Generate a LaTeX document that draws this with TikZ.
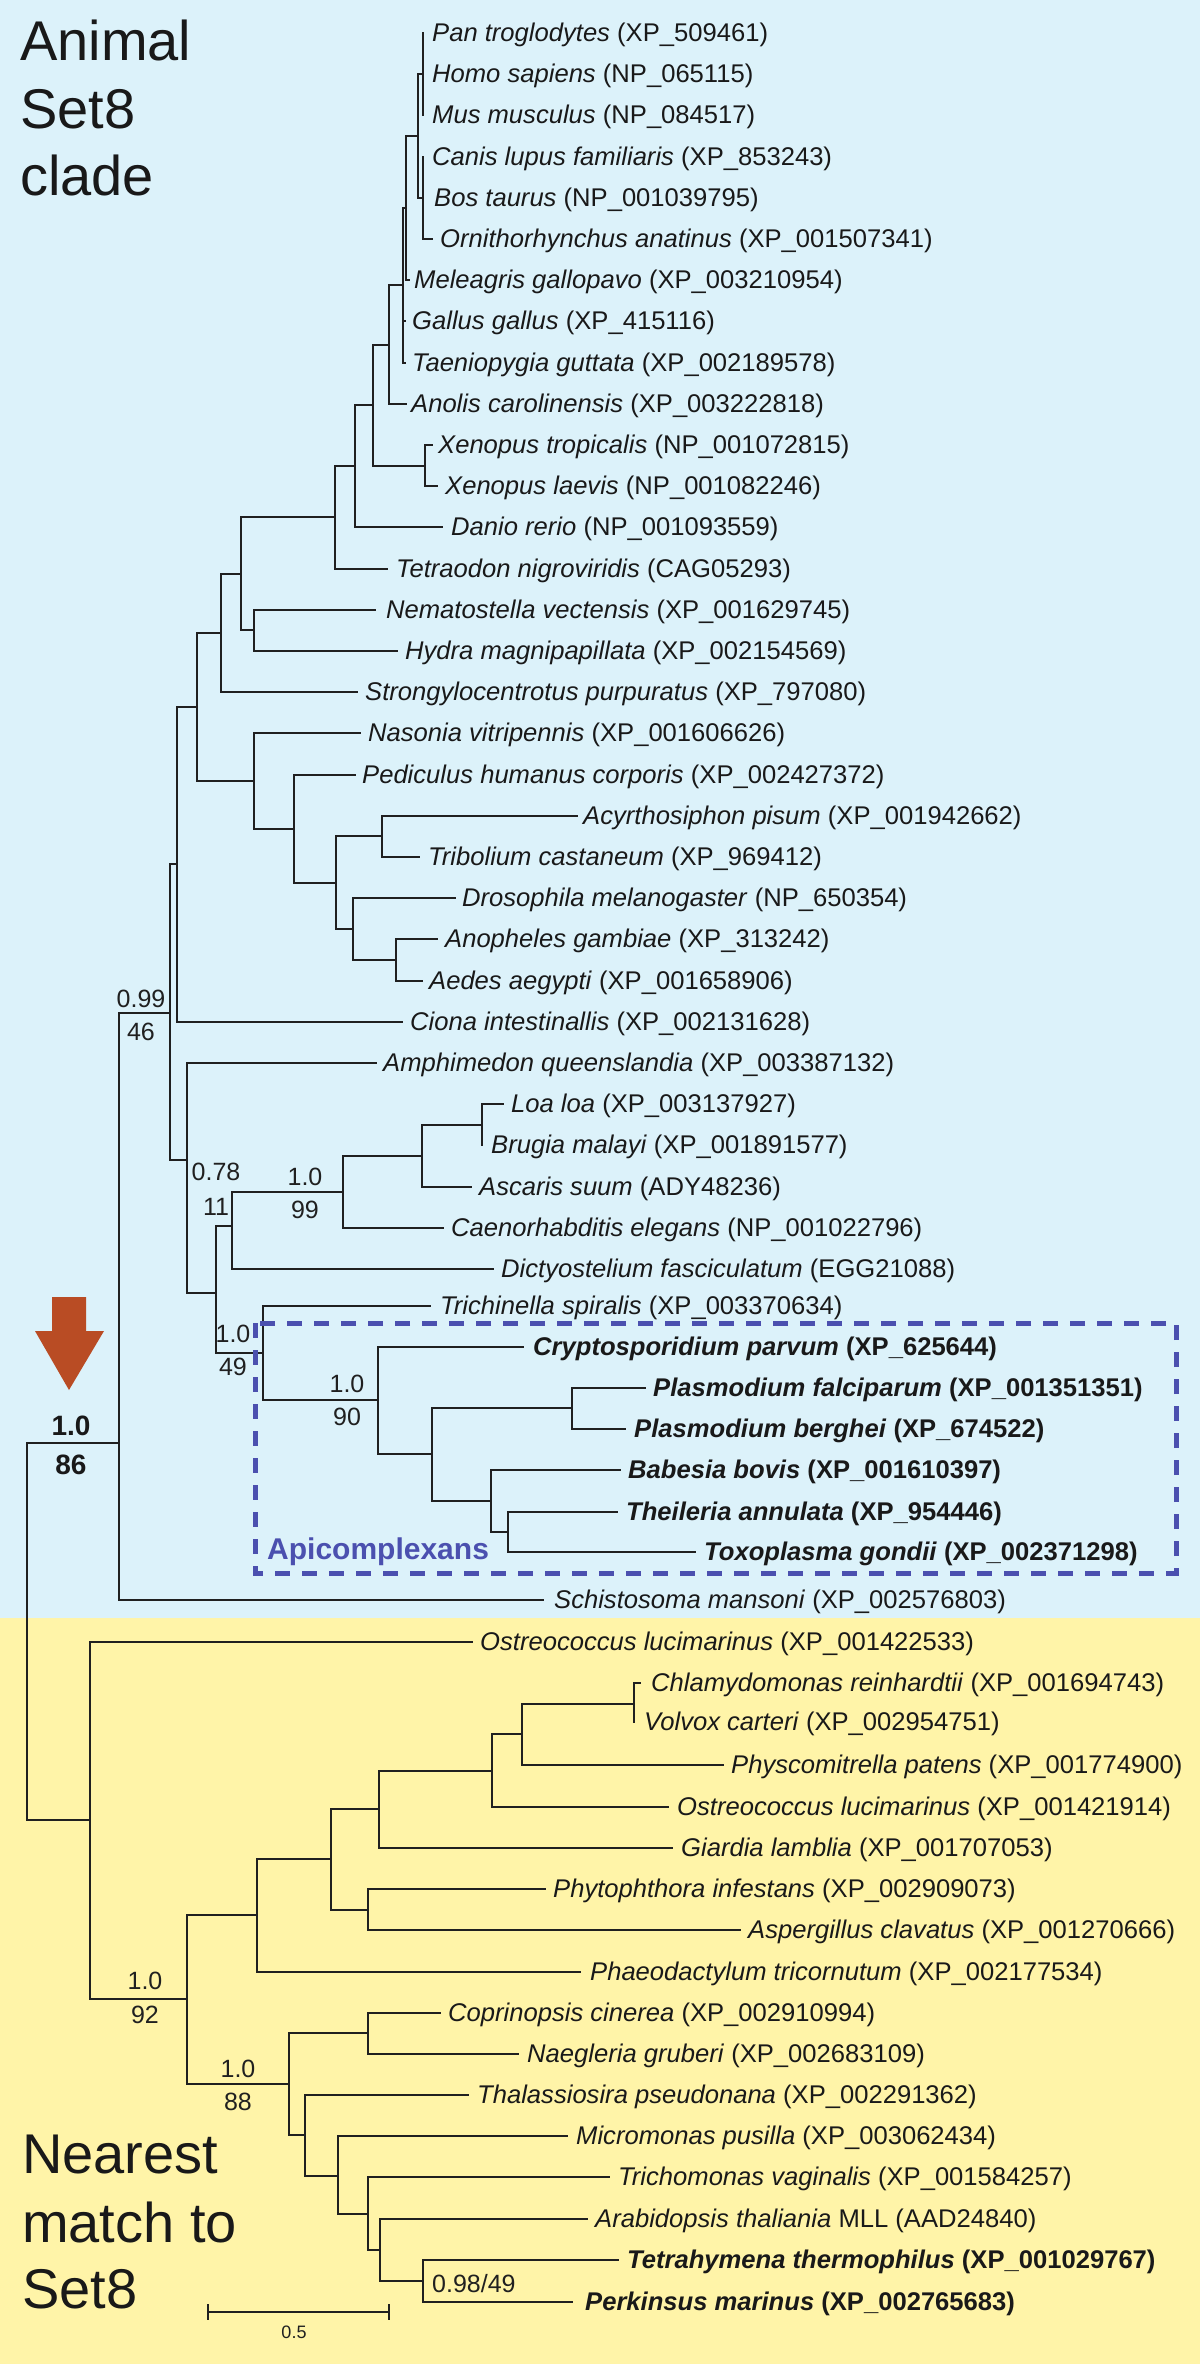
\documentclass[tikz,border=0pt]{standalone}
\usepackage{fontspec}
\setmainfont{Liberation Sans}
\definecolor{bgblue}{RGB}{220,242,250}
\definecolor{bgyel}{RGB}{255,244,168}
\definecolor{lncol}{RGB}{32,32,32}
\definecolor{arrcol}{RGB}{185,76,36}
\definecolor{apbcol}{RGB}{75,80,175}
\newcommand\lfont{\fontsize{25.6}{30}\selectfont}
\newcommand\br[5]{\draw[tl] (#3,#2) -- (#1,#2) -- (#1,#4) -- (#5,#4);}
\newcommand\lf[5]{\node[lab] (#1) at (#2,#3) {\textit{#4} #5};}
\newcommand\lfb[5]{\node[lab,font=\lfont\bfseries] (#1) at (#2,#3) {\textit{#4} #5};}
\begin{document}
\begin{tikzpicture}[x=1pt,y=-1pt,
  tl/.style={draw=lncol,line width=2.1pt,line cap=rect},
  lab/.style={anchor=base west,inner sep=0pt,yshift=-8pt,font=\lfont,text=lncol!80!black},
  num/.style={anchor=base,inner sep=0pt,font=\fontsize{25}{29}\selectfont,text=lncol},
  bignum/.style={anchor=base,inner sep=0pt,font=\fontsize{28}{32}\selectfont\bfseries,text=black!90},
  title/.style={anchor=base west,inner sep=0pt,font=\fontsize{56}{60}\selectfont,text=black!90}]
\useasboundingbox (0,0) rectangle (1200,2364);
\fill[bgblue] (0,0) rectangle (1200,1618);
\fill[bgyel] (0,1618) rectangle (1200,2364);

% titles
\node[title] (t1) at (20,60) {Animal};
\node[title] (t2) at (20,128) {Set8};
\node[title] (t3) at (20,195) {clade};
\node[title] (t4) at (22,2173) {Nearest};
\node[title] (t5) at (22,2242) {match to};
\node[title] (t6) at (22,2308) {Set8};

% ---------- animal tree ----------
\draw[tl] (423,33) -- (423,115);
\draw[tl] (423,157) -- (423,239) -- (432,239);
\br{418}{74}{423}{198}{423}
\br{406}{136}{418}{280}{409}
\br{403}{208}{406}{363}{405}
\draw[tl] (403,321) -- (405,321);
\br{389}{285}{403}{404}{406}
\br{425}{445}{432}{486}{437}
\br{373}{345}{389}{466}{425}
\br{355}{405}{373}{527}{442}
\br{335}{466}{355}{569}{387}
\br{254}{610}{375}{651}{397}
\br{241}{517}{335}{630}{254}
\br{221}{574}{241}{692}{357}
\br{382}{816}{577}{857}{419}
\br{396}{939}{437}{981}{422}
\br{353}{898}{455}{960}{396}
\br{336}{836}{382}{929}{353}
\br{294}{775}{355}{883}{336}
\br{254}{733}{360}{829}{294}
\br{197}{633}{221}{781}{254}
\br{177}{707}{197}{1022}{402}
\br{482}{1104}{503}{1145}{482}
\br{422}{1125}{482}{1187}{471}
\br{343}{1156}{422}{1228}{443}
\br{232}{1192}{343}{1269}{493}
\br{572}{1388}{645}{1429}{625}
\br{508}{1512}{617}{1552}{695}
\br{491}{1470}{620}{1532}{508}
\br{432}{1408}{572}{1501}{491}
\br{378}{1347}{523}{1454}{432}
\br{263}{1306}{430}{1400}{378}
\br{216}{1226}{232}{1353}{263}
\br{187}{1063}{376}{1293}{216}
\br{170}{864}{177}{1160}{187}
\br{119}{1013}{170}{1600}{543}
\br{27}{1443}{119}{1820}{90}

% ---------- lower tree ----------
\br{634}{1683}{640}{1722}{634}
\br{522}{1704}{634}{1765}{723}
\br{492}{1734}{522}{1807}{668}
\br{379}{1771}{492}{1848}{672}
\br{368}{1889}{545}{1930}{740}
\br{331}{1809}{379}{1910}{368}
\br{257}{1859}{331}{1972}{580}
\br{368}{2013}{440}{2054}{518}
\br{423}{2260}{618}{2302}{572}
\br{380}{2219}{587}{2281}{423}
\br{368}{2177}{609}{2250}{380}
\br{338}{2136}{567}{2214}{368}
\br{305}{2095}{468}{2176}{338}
\br{289}{2033}{368}{2135}{305}
\br{187}{1915}{257}{2084}{289}
\br{90}{1642}{472}{1999}{187}

% ---------- leaf labels (animal) ----------
\lf{l0}{432}{33}{Pan troglodytes}{(XP\_509461)}
\lf{l1}{432}{74}{Homo sapiens}{(NP\_065115)}
\lf{l2}{432}{115}{Mus musculus}{(NP\_084517)}
\lf{l3}{432}{157}{Canis lupus familiaris}{(XP\_853243)}
\lf{l4}{434}{198}{Bos taurus}{(NP\_001039795)}
\lf{l5}{440}{239}{Ornithorhynchus anatinus}{(XP\_001507341)}
\lf{l6}{414}{280}{Meleagris gallopavo}{(XP\_003210954)}
\lf{l7}{412}{321}{Gallus gallus}{(XP\_415116)}
\lf{l8}{412}{363}{Taeniopygia guttata}{(XP\_002189578)}
\lf{l9}{411}{404}{Anolis carolinensis}{(XP\_003222818)}
\lf{l10}{438}{445}{Xenopus tropicalis}{(NP\_001072815)}
\lf{l11}{445}{486}{Xenopus laevis}{(NP\_001082246)}
\lf{l12}{451}{527}{Danio rerio}{(NP\_001093559)}
\lf{l13}{396}{569}{Tetraodon nigroviridis}{(CAG05293)}
\lf{l14}{386}{610}{Nematostella vectensis}{(XP\_001629745)}
\lf{l15}{405}{651}{Hydra magnipapillata}{(XP\_002154569)}
\lf{l16}{365}{692}{Strongylocentrotus purpuratus}{(XP\_797080)}
\lf{l17}{368}{733}{Nasonia vitripennis}{(XP\_001606626)}
\lf{l18}{362}{775}{Pediculus humanus corporis}{(XP\_002427372)}
\lf{l19}{583}{816}{Acyrthosiphon pisum}{(XP\_001942662)}
\lf{l20}{428}{857}{Tribolium castaneum}{(XP\_969412)}
\lf{l21}{462}{898}{Drosophila melanogaster}{(NP\_650354)}
\lf{l22}{445}{939}{Anopheles gambiae}{(XP\_313242)}
\lf{l23}{429}{981}{Aedes aegypti}{(XP\_001658906)}
\lf{l24}{410}{1022}{Ciona intestinallis}{(XP\_002131628)}
\lf{l25}{383}{1063}{Amphimedon queenslandia}{(XP\_003387132)}
\lf{l26}{511}{1104}{Loa loa}{(XP\_003137927)}
\lf{l27}{491}{1145}{Brugia malayi}{(XP\_001891577)}
\lf{l28}{479}{1187}{Ascaris suum}{(ADY48236)}
\lf{l29}{451}{1228}{Caenorhabditis elegans}{(NP\_001022796)}
\lf{l30}{501}{1269}{Dictyostelium fasciculatum}{(EGG21088)}
\lf{l31}{440}{1306}{Trichinella spiralis}{(XP\_003370634)}
\lfb{l32}{533}{1347}{Cryptosporidium parvum}{(XP\_625644)}
\lfb{l33}{653}{1388}{Plasmodium falciparum}{(XP\_001351351)}
\lfb{l34}{634}{1429}{Plasmodium berghei}{(XP\_674522)}
\lfb{l35}{628}{1470}{Babesia bovis}{(XP\_001610397)}
\lfb{l36}{626}{1512}{Theileria annulata}{(XP\_954446)}
\lfb{l37}{704}{1552}{Toxoplasma gondii}{(XP\_002371298)}
\lf{l38}{554}{1600}{Schistosoma mansoni}{(XP\_002576803)}

% ---------- leaf labels (lower) ----------
\lf{m0}{480}{1642}{Ostreococcus lucimarinus}{(XP\_001422533)}
\lf{m1}{651}{1683}{Chlamydomonas reinhardtii}{(XP\_001694743)}
\lf{m2}{644}{1722}{Volvox carteri}{(XP\_002954751)}
\lf{m3}{731}{1765}{Physcomitrella patens}{(XP\_001774900)}
\lf{m4}{677}{1807}{Ostreococcus lucimarinus}{(XP\_001421914)}
\lf{m5}{681}{1848}{Giardia lamblia}{(XP\_001707053)}
\lf{m6}{553}{1889}{Phytophthora infestans}{(XP\_002909073)}
\lf{m7}{748}{1930}{Aspergillus clavatus}{(XP\_001270666)}
\lf{m8}{590}{1972}{Phaeodactylum tricornutum}{(XP\_002177534)}
\lf{m9}{448}{2013}{Coprinopsis cinerea}{(XP\_002910994)}
\lf{m10}{527}{2054}{Naegleria gruberi}{(XP\_002683109)}
\lf{m11}{477}{2095}{Thalassiosira pseudonana}{(XP\_002291362)}
\lf{m12}{576}{2136}{Micromonas pusilla}{(XP\_003062434)}
\lf{m13}{618}{2177}{Trichomonas vaginalis}{(XP\_001584257)}
\lf{m14}{595}{2219}{Arabidopsis thaliania}{MLL (AAD24840)}
\lfb{m15}{627}{2260}{Tetrahymena thermophilus}{(XP\_001029767)}
\lfb{m16}{585}{2302}{Perkinsus marinus}{(XP\_002765683)}

% ---------- support values ----------
\node[num] (s1a) at (141,1007) {0.99};
\node[num] (s1b) at (141,1040) {46};
\node[num] (s2a) at (216,1180) {0.78};
\node[num] (s2b) at (216,1215) {11};
\node[num] (s3a) at (305,1185) {1.0};
\node[num] (s3b) at (305,1218) {99};
\node[num] (s4a) at (233,1342) {1.0};
\node[num] (s4b) at (233,1375) {49};
\node[num] (s5a) at (347,1392) {1.0};
\node[num] (s5b) at (347,1425) {90};
\node[bignum] (s6a) at (71,1435) {1.0};
\node[bignum] (s6b) at (71,1474) {86};
\node[num] (s7a) at (145,1989) {1.0};
\node[num] (s7b) at (145,2023) {92};
\node[num] (s8a) at (238,2077) {1.0};
\node[num] (s8b) at (238,2110) {88};
\node[num,anchor=base west] (s9) at (432,2292) {0.98/49};

% ---------- arrow ----------
\fill[arrcol] (52,1297) -- (86,1297) -- (86,1331) -- (104,1331) -- (69,1390)
  -- (35,1331) -- (52,1331) -- cycle;

% ---------- Apicomplexan box ----------
\draw[apbcol,line width=5pt,dash pattern=on 15pt off 12pt] (255,1323) rectangle (1176,1573);
\node[anchor=base west,inner sep=0pt,text=apbcol,font=\fontsize{30}{34}\selectfont\bfseries] (apl) at (267,1559) {Apicomplexans};

% ---------- scale bar ----------
\draw[tl,line cap=butt] (208,2304) -- (208,2320);
\draw[tl,line cap=butt] (389,2304) -- (389,2320);
\draw[tl,line cap=butt] (208,2312) -- (389,2312);
\node[anchor=base,inner sep=0pt,font=\fontsize{18}{22}\selectfont,text=lncol] (sc) at (294,2338) {0.5};
\end{tikzpicture}
\end{document}
